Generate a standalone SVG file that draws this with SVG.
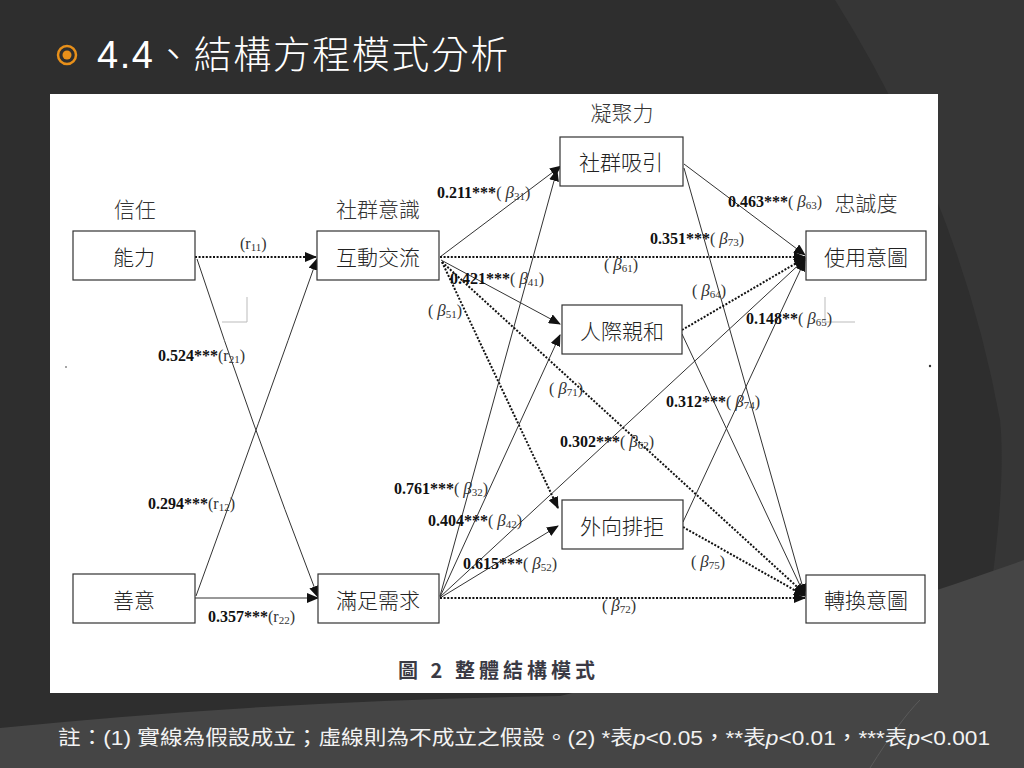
<svg xmlns="http://www.w3.org/2000/svg" width="1024" height="768" viewBox="0 0 1024 768">
<defs>
<style>
.box{fill:#fff;stroke:#333;stroke-width:1.2}
.nt{font-family:"Noto Sans CJK TC","Liberation Sans",sans-serif;font-size:21px;font-weight:300;fill:#222;text-anchor:middle;dominant-baseline:central}
.hd{font-family:"Noto Sans CJK TC","Liberation Sans",sans-serif;font-size:21px;font-weight:300;fill:#333;text-anchor:middle;dominant-baseline:central}
.sl{fill:none;stroke:#333;stroke-width:1;marker-end:url(#ah)}
.dl{fill:none;stroke:#111;stroke-width:2;stroke-dasharray:2 1.6;marker-end:url(#ah)}
.lb{font-family:"Liberation Serif",serif;font-size:16px;fill:#333}
.b{font-weight:bold;fill:#111}
.g{font-style:italic;font-size:17px}
.s{font-size:11px}
.art{fill:none;stroke:#bbb;stroke-width:1}
</style>
<marker id="ah" viewBox="0 0 12 10" refX="11" refY="5" markerWidth="12" markerHeight="10" markerUnits="userSpaceOnUse" orient="auto">
<path d="M0,0 L12,5 L0,10 Z" fill="#111"/>
</marker>
</defs>
<rect width="1024" height="768" fill="#2e2e2e"/>
<path d="M835 0 Q 960 200 1000 420 Q 1010 520 960 768 L1024 768 L1024 0 Z" fill="#363636"/>
<path d="M0 768 L0 728 Q 280 700 560 696 Q 800 640 1024 560 L1024 768 Z" fill="#454545"/>
<path d="M870 768 Q 900 720 920 700" fill="none" stroke="#5a5a5a" stroke-width="1"/>
<g id="title">
<circle cx="67" cy="55" r="9" fill="none" stroke="#e8901a" stroke-width="2.5"/>
<circle cx="67" cy="55" r="4.5" fill="#e8901a"/>
<text x="97" y="68" font-family="Liberation Sans,'Noto Sans CJK TC',sans-serif" font-size="38" font-weight="300" fill="#fff" letter-spacing="1.5">4.4、結構方程模式分析</text>
</g>
<rect x="50" y="94" width="888" height="599" fill="#fff"/>
<g id="artifacts">
<path class="art" d="M247 297 V322 H222"/>
<path class="art" d="M825 297 V322 H855"/>
<circle cx="66" cy="367" r="1" fill="#888"/>
<circle cx="930" cy="366" r="1.2" fill="#333"/>
</g>
<g id="headers">
<text class="hd" x="135" y="208">信任</text>
<text class="hd" x="378" y="208">社群意識</text>
<text class="hd" x="622" y="112">凝聚力</text>
<text class="hd" x="866" y="202">忠誠度</text>
</g>
<g id="connectors">
<line class="dl" x1="195" y1="257" x2="316" y2="257"/>
<path class="sl" d="M197 259 Q 250 420 318 597"/>
<path class="sl" d="M196 596 Q 260 420 317 259"/>
<line class="sl" x1="195" y1="598" x2="318" y2="598"/>
<line class="sl" x1="440" y1="257" x2="561" y2="166"/>
<line class="dl" x1="440" y1="257" x2="805" y2="257"/>
<line class="sl" x1="441" y1="260" x2="560" y2="324"/>
<line class="dl" x1="442" y1="262" x2="558" y2="508"/>
<line class="dl" x1="442" y1="262" x2="805" y2="594"/>
<line class="sl" x1="440" y1="596" x2="557" y2="170"/>
<line class="sl" x1="440" y1="597" x2="560" y2="335"/>
<line class="sl" x1="440" y1="598" x2="558" y2="526"/>
<line class="sl" x1="440" y1="597" x2="805" y2="259"/>
<line class="dl" x1="440" y1="598" x2="805" y2="598"/>
<line class="sl" x1="684" y1="164" x2="805" y2="255"/>
<line class="sl" x1="684" y1="168" x2="805" y2="595"/>
<line class="dl" x1="682" y1="330" x2="805" y2="258"/>
<line class="sl" x1="682" y1="334" x2="805" y2="596"/>
<line class="sl" x1="683" y1="522" x2="805" y2="260"/>
<line class="dl" x1="683" y1="527" x2="805" y2="596"/>
</g>
<g id="labels">
<text class="lb" x="240" y="249">(r<tspan class="s" dy="2">11</tspan><tspan dy="-2">)</tspan></text>
<text class="lb" x="158" y="361"><tspan class="b">0.524***</tspan>(r<tspan class="s" dy="2">21</tspan><tspan dy="-2">)</tspan></text>
<text class="lb" x="148" y="509"><tspan class="b">0.294***</tspan>(r<tspan class="s" dy="2">12</tspan><tspan dy="-2">)</tspan></text>
<text class="lb" x="208" y="622"><tspan class="b">0.357***</tspan>(r<tspan class="s" dy="2">22</tspan><tspan dy="-2">)</tspan></text>
<text class="lb" x="437" y="198"><tspan class="b">0.211***</tspan>( <tspan class="g">β</tspan><tspan class="s" dy="2">31</tspan><tspan dy="-2">)</tspan></text>
<text class="lb" x="728" y="207"><tspan class="b">0.463***</tspan>( <tspan class="g">β</tspan><tspan class="s" dy="2">63</tspan><tspan dy="-2">)</tspan></text>
<text class="lb" x="650" y="244"><tspan class="b">0.351***</tspan>( <tspan class="g">β</tspan><tspan class="s" dy="2">73</tspan><tspan dy="-2">)</tspan></text>
<text class="lb" x="604" y="270">( <tspan class="g">β</tspan><tspan class="s" dy="2">61</tspan><tspan dy="-2">)</tspan></text>
<text class="lb" x="450" y="284"><tspan class="b">0.421***</tspan>( <tspan class="g">β</tspan><tspan class="s" dy="2">41</tspan><tspan dy="-2">)</tspan></text>
<text class="lb" x="692" y="296">( <tspan class="g">β</tspan><tspan class="s" dy="2">64</tspan><tspan dy="-2">)</tspan></text>
<text class="lb" x="428" y="316">( <tspan class="g">β</tspan><tspan class="s" dy="2">51</tspan><tspan dy="-2">)</tspan></text>
<text class="lb" x="746" y="324"><tspan class="b">0.148**</tspan>( <tspan class="g">β</tspan><tspan class="s" dy="2">65</tspan><tspan dy="-2">)</tspan></text>
<text class="lb" x="549" y="394">( <tspan class="g">β</tspan><tspan class="s" dy="2">71</tspan><tspan dy="-2">)</tspan></text>
<text class="lb" x="666" y="407"><tspan class="b">0.312***</tspan>( <tspan class="g">β</tspan><tspan class="s" dy="2">74</tspan><tspan dy="-2">)</tspan></text>
<text class="lb" x="560" y="447"><tspan class="b">0.302***</tspan>( <tspan class="g">β</tspan><tspan class="s" dy="2">62</tspan><tspan dy="-2">)</tspan></text>
<text class="lb" x="394" y="494"><tspan class="b">0.761***</tspan>( <tspan class="g">β</tspan><tspan class="s" dy="2">32</tspan><tspan dy="-2">)</tspan></text>
<text class="lb" x="428" y="526"><tspan class="b">0.404***</tspan>( <tspan class="g">β</tspan><tspan class="s" dy="2">42</tspan><tspan dy="-2">)</tspan></text>
<text class="lb" x="463" y="569"><tspan class="b">0.615***</tspan>( <tspan class="g">β</tspan><tspan class="s" dy="2">52</tspan><tspan dy="-2">)</tspan></text>
<text class="lb" x="691" y="567">( <tspan class="g">β</tspan><tspan class="s" dy="2">75</tspan><tspan dy="-2">)</tspan></text>
<text class="lb" x="602" y="611">( <tspan class="g">β</tspan><tspan class="s" dy="2">72</tspan><tspan dy="-2">)</tspan></text>
</g>
<g id="n-ability"><rect class="box" x="73" y="231" width="122" height="49"/><text class="nt" x="134" y="256">能力</text></g>
<g id="n-goodwill"><rect class="box" x="73" y="574" width="122" height="49"/><text class="nt" x="134" y="599">善意</text></g>
<g id="n-interact"><rect class="box" x="317" y="231" width="122" height="49"/><text class="nt" x="378" y="256">互動交流</text></g>
<g id="n-needs"><rect class="box" x="318" y="574" width="121" height="49"/><text class="nt" x="378" y="599">滿足需求</text></g>
<g id="n-attract"><rect class="box" x="560" y="137" width="123" height="49"/><text class="nt" x="621" y="161">社群吸引</text></g>
<g id="n-affinity"><rect class="box" x="562" y="305" width="120" height="49"/><text class="nt" x="622" y="330">人際親和</text></g>
<g id="n-reject"><rect class="box" x="562" y="500" width="121" height="49"/><text class="nt" x="622" y="525">外向排拒</text></g>
<g id="n-use"><rect class="box" x="806" y="231" width="120" height="49"/><text class="nt" x="866" y="256">使用意圖</text></g>
<g id="n-switch"><rect class="box" x="806" y="575" width="119" height="48"/><text class="nt" x="866" y="599">轉換意圖</text></g>
<text x="398" y="678" font-family="'Noto Sans CJK TC',sans-serif" font-size="20" font-weight="bold" fill="#3a3a44" letter-spacing="4">圖 2 整體結構模式</text>
<text x="58" y="745" font-family="Liberation Sans,'Noto Sans CJK TC',sans-serif" font-size="20" fill="#f2f2f2" textLength="932" lengthAdjust="spacingAndGlyphs">註：(1) 實線為假設成立；虛線則為不成立之假設。(2) *表<tspan font-style="italic">p</tspan>&lt;0.05，**表<tspan font-style="italic">p</tspan>&lt;0.01，***表<tspan font-style="italic">p</tspan>&lt;0.001</text>
</svg>
